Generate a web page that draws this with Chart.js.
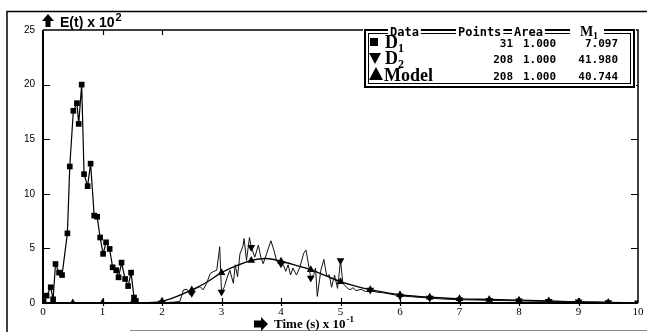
<!DOCTYPE html>
<html>
<head>
<meta charset="utf-8">
<script src="https://cdn.jsdelivr.net/npm/chart.js@4.4.1/dist/chart.umd.min.js"></script>
<style>
  html, body { margin: 0; padding: 0; background: #fff; }
  #wrap { width: 647px; height: 332px; }
</style>
</head>
<body>
<div id="wrap"><canvas id="chart" width="647" height="332"></canvas></div>
<script>
// D1 (squares), 31 points
const d1X = [0.01,0.06,0.13,0.17,0.21,0.27,0.32,0.41,0.45,0.51,0.57,0.60,0.65,0.69,0.75,0.80,0.86,0.91,0.96,1.01,1.06,1.12,1.17,1.23,1.27,1.32,1.38,1.43,1.48,1.53,1.56];
const d1Y = [0.1,0.67,1.44,0.34,3.57,2.78,2.56,6.38,12.5,17.6,18.3,16.4,20.0,11.8,10.7,12.76,8.0,7.9,6.0,4.5,5.56,4.95,3.27,3.0,2.35,3.7,2.2,1.55,2.78,0.5,0.2];

// D2 (down triangles), noisy signal
const d2X = [1.6,1.8,2.0,2.2,2.3,2.36,2.42,2.47,2.5,2.56,2.64,2.69,2.75,2.81,2.86,2.92,2.97,3.0,3.05,3.09,3.14,3.2,3.23,3.27,3.31,3.36,3.38,3.42,3.47,3.5,3.56,3.62,3.66,3.7,3.76,3.83,3.88,3.93,4.0,4.04,4.08,4.12,4.16,4.2,4.26,4.32,4.38,4.42,4.46,4.5,4.55,4.58,4.61,4.67,4.72,4.77,4.81,4.85,4.9,4.95,4.97,5.0,5.04,5.1,5.16,5.21,5.26,5.35,5.42,5.5,5.6,5.7,5.8,6.0,6.25,6.5,6.75,7.0,7.5,8.0,8.5,9.0,9.5,10];
const d2Y = [0,0,0.02,0.08,0.15,1.19,1.25,0.73,0.9,1.3,1.5,1.2,1.8,2.7,2.87,3.0,5.15,1.0,1.5,2.26,3.0,1.8,3.5,2.4,4.5,5.2,5.9,3.9,6.0,5.1,4.2,5.3,4.2,3.6,4.55,5.7,4.85,3.8,3.6,3.5,2.9,3.5,2.56,3.2,2.56,3.3,4.55,4.85,3.6,2.3,2.6,3.2,0.6,3.0,4.0,2.4,2.6,1.44,2.56,1.34,2.3,3.9,1.8,1.44,1.2,1.4,1.14,1.25,1.05,1.2,1.0,0.95,0.85,0.65,0.55,0.45,0.35,0.3,0.25,0.2,0.15,0.12,0.05,0.02];

// Model (up triangles), smooth curve
const modelX = [0,0.5,1,1.5,1.75,2,2.25,2.5,2.75,3,3.25,3.5,3.75,4,4.25,4.5,4.75,5,5.25,5.5,5.75,6,6.5,7,7.5,8,8.5,9,9.5,10];
const modelY = [0,0,0,0,0.02,0.15,0.6,1.2,1.9,2.78,3.4,3.9,4.07,3.82,3.45,3.05,2.5,1.95,1.55,1.22,0.97,0.76,0.52,0.38,0.32,0.25,0.18,0.1,0.05,0];

// axis ticks
const xTicks = [0,1,2,3,4,5,6,7,8,9,10];
const yTicks = [0,5,10,15,20,25];
const topTicks = [1,2];

// legend table
const legendNames = ['D', 'D', 'Model'];
const legendSubs = ['1', '2', ''];
const legendPoints = ['31', '208', '208'];
const legendArea = ['1.000', '1.000', '1.000'];
const legendM1 = ['7.097', '41.980', '40.744'];

const pts = (xs, ys) => xs.map((x, i) => ({ x: x, y: ys[i] }));
const onHalf = x => Math.abs(x * 2 - Math.round(x * 2)) < 1e-6;

const framePlugin = {
  id: 'frame',
  beforeDraw(chart) {
    const ctx = chart.ctx;
    ctx.save();
    ctx.fillStyle = '#fff';
    ctx.fillRect(0, 0, chart.width, chart.height);
    ctx.restore();
  },
  afterDraw(chart) {
    const ctx = chart.ctx;
    const a = chart.chartArea;
    const xs = chart.scales.x, ys = chart.scales.y;
    ctx.save();
    ctx.strokeStyle = '#000';

    // outer page frame
    ctx.lineWidth = 1.5;
    ctx.beginPath();
    ctx.moveTo(7, 332); ctx.lineTo(7, 11.5); ctx.lineTo(647, 11.5);
    ctx.stroke();
    ctx.strokeStyle = '#888';
    ctx.lineWidth = 1;
    ctx.beginPath();
    ctx.moveTo(130, 330.5); ctx.lineTo(647, 330.5);
    ctx.stroke();

    // plot frame
    ctx.strokeStyle = '#000';
    ctx.lineWidth = 2;
    ctx.beginPath();
    ctx.moveTo(a.left, a.top); ctx.lineTo(a.left, a.bottom); ctx.lineTo(a.right, a.bottom);
    ctx.stroke();
    ctx.lineWidth = 1.5;
    ctx.beginPath();
    ctx.moveTo(a.left, a.top); ctx.lineTo(a.right, a.top); ctx.lineTo(a.right, a.bottom);
    ctx.stroke();

    // tick marks inside the frame
    ctx.lineWidth = 1.2;
    ctx.beginPath();
    xTicks.slice(1, -1).forEach(v => {
      const px = Math.round(xs.getPixelForValue(v)) + 0.5;
      ctx.moveTo(px, a.bottom - 5); ctx.lineTo(px, a.bottom + 3);
    });
    topTicks.forEach(v => {
      const px = Math.round(xs.getPixelForValue(v)) + 0.5;
      ctx.moveTo(px, a.top); ctx.lineTo(px, a.top + 5);
    });
    yTicks.slice(1, -1).forEach(v => {
      const py = Math.round(ys.getPixelForValue(v)) + 0.5;
      ctx.moveTo(a.left, py); ctx.lineTo(a.left + 7, py);
      ctx.moveTo(a.right, py); ctx.lineTo(a.right - 7, py);
    });
    ctx.stroke();

    // y axis title with up arrow
    ctx.fillStyle = '#000';
    ctx.beginPath();
    ctx.moveTo(48, 14); ctx.lineTo(54, 21); ctx.lineTo(50.5, 21); ctx.lineTo(50.5, 27);
    ctx.lineTo(45.5, 27); ctx.lineTo(45.5, 21); ctx.lineTo(42, 21); ctx.closePath();
    ctx.fill();
    ctx.font = 'bold 14px "Liberation Sans", Arial, sans-serif';
    ctx.textBaseline = 'alphabetic';
    ctx.textAlign = 'left';
    ctx.fillText('E(t) x 10', 60, 27);
    const w1 = ctx.measureText('E(t) x 10').width;
    ctx.font = 'bold 11px "Liberation Sans", Arial, sans-serif';
    ctx.fillText('2', 60 + w1 + 1, 21);

    // x axis title with right arrow
    ctx.beginPath();
    ctx.moveTo(268, 324); ctx.lineTo(261, 317); ctx.lineTo(261, 320.5); ctx.lineTo(254, 320.5);
    ctx.lineTo(254, 327.5); ctx.lineTo(261, 327.5); ctx.lineTo(261, 331); ctx.closePath();
    ctx.fill();
    ctx.font = 'bold 13px "Liberation Serif", "Times New Roman", serif';
    ctx.fillText('Time (s) x 10', 274, 328);
    const w2 = ctx.measureText('Time (s) x 10').width;
    ctx.font = 'bold 9px "Liberation Serif", "Times New Roman", serif';
    ctx.fillText('-1', 274 + w2 + 1, 322);
    ctx.restore();
  }
};

const legendPlugin = {
  id: 'tableLegend',
  afterDraw(chart) {
    const ctx = chart.ctx;
    const L = 364, T = 29, R = 635, B = 88;
    ctx.save();
    ctx.fillStyle = '#fff';
    ctx.fillRect(L - 1, T - 1, R - L + 2, B - T + 2);
    ctx.strokeStyle = '#000';
    ctx.lineWidth = 2;
    ctx.strokeRect(L + 1, T + 1, R - L - 2, B - T - 2);
    ctx.lineWidth = 1;
    ctx.strokeRect(L + 4.5, T + 4.5, R - L - 9, B - T - 9);

    const mono = 'bold 11px "DejaVu Sans Mono", "Liberation Mono", monospace';
    const serif = 'bold 18px "Liberation Serif", "Times New Roman", serif';
    ctx.textBaseline = 'alphabetic';

    // header words sit on the top border
    const head = [['Data', 390], ['Points', 458], ['Area', 514]];
    ctx.font = 'bold 12px "DejaVu Sans Mono", "Liberation Mono", monospace';
    head.forEach(h => {
      const w = ctx.measureText(h[0]).width;
      ctx.fillStyle = '#fff';
      ctx.fillRect(h[1] - 2, T, w + 4, 8);
      ctx.fillStyle = '#000';
      ctx.fillText(h[0], h[1], 36);
    });
    ctx.fillStyle = '#fff';
    ctx.fillRect(570, T, 34, 8);
    ctx.fillStyle = '#000';
    ctx.font = 'bold 14px "Liberation Serif", serif';
    ctx.fillText('M', 580, 36);
    ctx.font = 'bold 10px "Liberation Serif", serif';
    ctx.fillText('1', 593, 39);

    // rows
    const rowY = [47, 63, 80];
    legendNames.forEach((name, i) => {
      const y = rowY[i];
      // marker
      ctx.beginPath();
      if (i === 0) {
        ctx.rect(370, y - 9, 8, 8);
      } else if (i === 1) {
        ctx.moveTo(369, y - 10); ctx.lineTo(381, y - 10); ctx.lineTo(375, y + 1); ctx.closePath();
      } else {
        ctx.moveTo(376, y - 13); ctx.lineTo(383, y); ctx.lineTo(369, y); ctx.closePath();
      }
      ctx.fill();
      ctx.textAlign = 'left';
      ctx.font = serif;
      ctx.fillText(name, i === 2 ? 384 : 385, y + 1);
      if (legendSubs[i]) {
        const w = ctx.measureText(name).width;
        ctx.font = 'bold 12px "Liberation Serif", serif';
        ctx.fillText(legendSubs[i], 385 + w, y + 5);
      }
      ctx.font = mono;
      ctx.textAlign = 'right';
      ctx.fillText(legendPoints[i], 513, y);
      ctx.fillText(legendArea[i], 556, y);
      ctx.fillText(legendM1[i], 618, y);
    });
    ctx.restore();
  }
};

new Chart(document.getElementById('chart'), {
  type: 'line',
  data: {
    datasets: [
      {
        label: 'D1',
        data: pts(d1X, d1Y),
        borderColor: '#000',
        backgroundColor: '#000',
        borderWidth: 1.2,
        tension: 0,
        pointStyle: 'rect',
        pointRadius: 4,
        pointBorderWidth: 0
      },
      {
        label: 'D2',
        data: pts(d2X, d2Y),
        borderColor: '#111',
        backgroundColor: '#000',
        borderWidth: 1,
        tension: 0,
        pointStyle: 'triangle',
        rotation: 180,
        pointRadius: c => onHalf(c.raw.x) && c.raw.x >= 2 ? 4.5 : 0,
        pointBorderWidth: 0
      },
      {
        label: 'Model',
        data: pts(modelX, modelY),
        borderColor: '#000',
        backgroundColor: '#000',
        borderWidth: 1.4,
        tension: 0.4,
        cubicInterpolationMode: 'monotone',
        pointStyle: 'triangle',
        pointRadius: c => onHalf(c.raw.x) && c.raw.x > 0 && c.raw.x < 10 ? 4.5 : 0,
        pointBorderWidth: 0
      }
    ]
  },
  options: {
    responsive: false,
    animation: false,
    layout: { padding: { top: 30, left: 0, right: 9, bottom: 0 } },
    plugins: { legend: { display: false }, tooltip: { enabled: false }, title: { display: false } },
    scales: {
      x: {
        type: 'linear',
        min: 0, max: 10,
        afterFit: s => { s.height = 29; },
        afterBuildTicks: s => { s.ticks = xTicks.map(v => ({ value: v })); },
        grid: { display: false, drawTicks: false },
        border: { display: false },
        ticks: {
          padding: 3,
          color: '#000',
          font: { family: '"Liberation Serif", "Times New Roman", serif', size: 11 },
          maxRotation: 0
        }
      },
      y: {
        min: 0, max: 25,
        afterFit: s => { s.width = 43; },
        afterBuildTicks: s => { s.ticks = yTicks.map(v => ({ value: v })); },
        grid: { display: false, drawTicks: false },
        border: { display: false },
        ticks: {
          padding: 8,
          color: '#000',
          font: { family: '"Liberation Sans", Arial, sans-serif', size: 10 }
        }
      }
    }
  },
  plugins: [framePlugin, legendPlugin]
});
</script>
</body>
</html>
